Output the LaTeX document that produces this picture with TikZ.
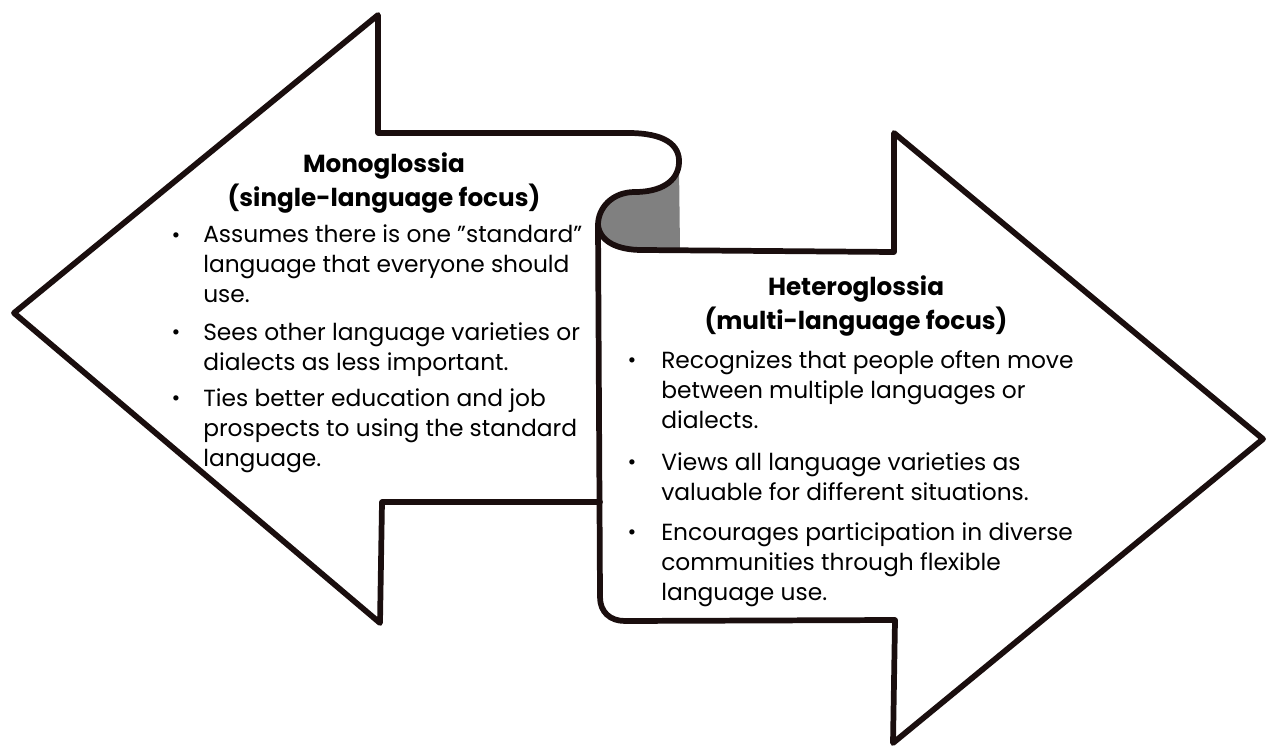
\documentclass[tikz,border=0pt]{standalone}
\usepackage{fontspec}
\setmainfont{Poppins}
\usepackage{tikz}

\definecolor{inkc}{RGB}{26,14,14}
\definecolor{foldc}{RGB}{128,128,128}

\tikzset{
  outline/.style={draw=inkc, line width=4.3pt, line join=round, line cap=round},
  title/.style={align=center, inner sep=0pt, font=\bfseries\fontsize{18.5}{25.5}\selectfont},
  item/.style={anchor=north west, align=left, inner sep=0pt, font=\fontsize{17.5}{22.5}\selectfont},
  bul/.style={inner sep=0pt, font=\fontsize{16}{16}\selectfont}
}

\begin{document}
\begin{tikzpicture}[x=0.75pt,y=0.75pt,yscale=-1,xscale=1]
\path[use as bounding box] (0,0) rectangle (1266,748);

% shaded fold of the scroll
\fill[foldc] (679,165) .. controls (678,182) and (660,192) .. (635,192) .. controls (612,192) and (598,208) .. (598,225) .. controls (600,242) and (618,250) .. (642,250) -- (680,250) -- cycle;

% left arrow
\draw[outline] (600,502) -- (382,502) -- (380,623) -- (14,313) -- (378,15) -- (378,133) -- (628,133) .. controls (665,133) and (680,145) .. (679,163) .. controls (678,182) and (660,192) .. (635,192) .. controls (612,192) and (598,208) .. (598,225);
% right arrow
\draw[outline] (598,225) .. controls (600,242) and (618,250) .. (642,250) -- (894,252) -- (894,133) -- (1263,439) -- (893,743) -- (895,620) -- (625,621) .. controls (610,621) and (600,612) .. (600,597) -- cycle;

% Text Node
\node[title] (monotitle) at (384,183) {Monoglossia\\(single-language focus)};
\node[item] (mono1) at (203,224) {Assumes there is one ”standard”\\language that everyone should\\use.};
\node[item] (mono2) at (203,322) {Sees other language varieties or\\dialects as less important.};
\node[item] (mono3) at (203,388) {Ties better education and job\\prospects to using the standard\\language.};
\node[bul] (bm1) at (176,238) {•};
\node[bul] (bm2) at (176,335) {•};
\node[bul] (bm3) at (176,401) {•};

% Text Node
\node[title] (heterotitle) at (856,306) {Heteroglossia\\(multi-language focus)};
\node[item] (hetero1) at (661,350) {Recognizes that people often move\\between multiple languages or\\dialects.};
\node[item] (hetero2) at (661,452) {Views all language varieties as\\valuable for different situations.};
\node[item] (hetero3) at (661,522) {Encourages participation in diverse\\communities through flexible\\language use.};
\node[bul] (bh1) at (632,363) {•};
\node[bul] (bh2) at (632,465) {•};
\node[bul] (bh3) at (632,535) {•};

\end{tikzpicture}
\end{document}
